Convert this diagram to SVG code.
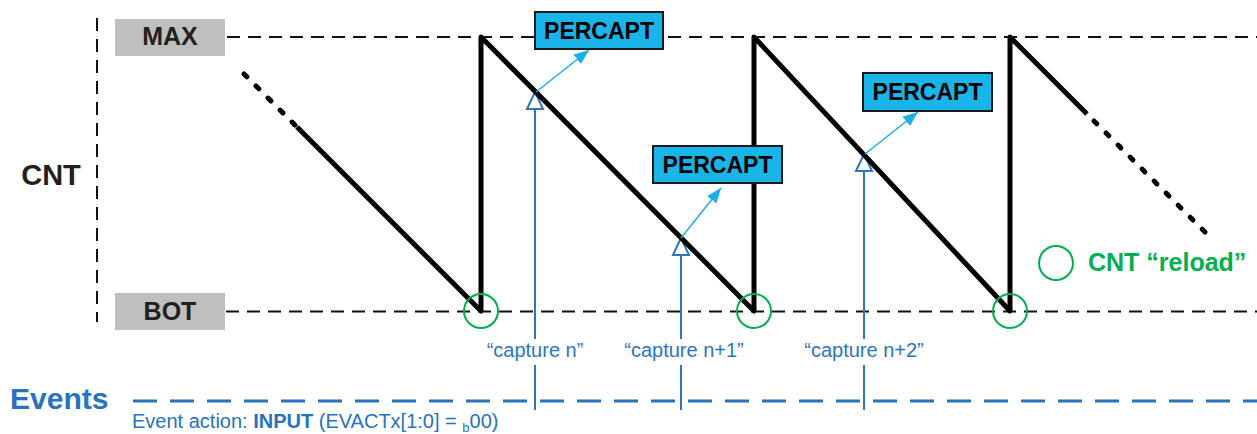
<svg xmlns="http://www.w3.org/2000/svg" width="1257" height="434" viewBox="0 0 1257 434">
<style>
.lvl{fill:#BFBFBF}
.lvlt{font-family:"Liberation Sans",Arial,sans-serif;font-weight:bold;font-size:25px;fill:#231F20;text-anchor:middle}
.ref{stroke:#111;stroke-width:2;stroke-dasharray:13 8;fill:none}
.pc{fill:#19B5E9;stroke:#1a1a1a;stroke-width:2}
.pct{font-family:"Liberation Sans",Arial,sans-serif;font-weight:bold;font-size:23px;fill:#000;text-anchor:middle}
.saw{stroke:#000;stroke-width:5;fill:none;stroke-linejoin:round}
.dot{stroke:#000;stroke-width:5;fill:none;stroke-linecap:round;stroke-dasharray:4 13}
.cap{stroke:#2E75C0;stroke-width:2;fill:none}
.capt{font-family:"Liberation Sans",Arial,sans-serif;font-size:20px;fill:#2E75C0;text-anchor:middle}
.cy{stroke:#1AB0E8;stroke-width:1.5;fill:none}
.rl{stroke:#00B050;stroke-width:2;fill:none}
.blue{fill:#2673BF;font-family:"Liberation Sans",Arial,sans-serif}
</style>
<defs>
<marker id="openTri" markerUnits="userSpaceOnUse" markerWidth="20" markerHeight="20" viewBox="0 0 20 20" refX="18" refY="10" orient="auto">
<path d="M1,2 L18,10 L1,18 Z" fill="#fff" stroke="#2E75C0" stroke-width="2"/>
</marker>
<marker id="cyHead" markerUnits="userSpaceOnUse" markerWidth="16" markerHeight="12" viewBox="0 0 16 12" refX="15" refY="6" orient="auto">
<path d="M0,0 L15,6 L0,12 Z" fill="#1AB0E8"/>
</marker>
</defs>
<rect width="1257" height="434" fill="#fff"/>

<g id="axis">
<line x1="97" y1="18" x2="97" y2="322" class="ref"/>
<text x="51" y="185" class="lvlt" style="font-size:29px">CNT</text>
</g>

<g id="max">
<rect x="115" y="19" width="110" height="37" class="lvl"/>
<text x="170" y="45" class="lvlt">MAX</text>
</g>
<g id="bot">
<rect x="115" y="293" width="110" height="37" class="lvl"/>
<text x="170" y="320" class="lvlt">BOT</text>
</g>

<g id="connectors">
<line x1="227" y1="37" x2="1257" y2="37" class="ref"/>
<line x1="226" y1="311.5" x2="1257" y2="311.5" class="ref"/>
<!-- capture lines -->
<line x1="535" y1="410" x2="535" y2="365" class="cap"/>
<line x1="535" y1="339" x2="535" y2="92" class="cap" marker-end="url(#openTri)"/>
<line x1="681" y1="410" x2="681" y2="365" class="cap"/>
<line x1="681" y1="339" x2="681" y2="238" class="cap" marker-end="url(#openTri)"/>
<line x1="864" y1="410" x2="864" y2="365" class="cap"/>
<line x1="864" y1="339" x2="864" y2="154" class="cap" marker-end="url(#openTri)"/>
<!-- sawtooth -->
<path d="M244,74 L297,127" class="dot"/>
<path d="M297,127 L481,311 L481,37 L754,311 L754,37 L1010,311 L1010,37 L1087,114" class="saw"/>
<path d="M1094,121 L1206,233" class="dot"/>
<!-- percapt arrows -->
<line x1="536" y1="92" x2="589" y2="50" class="cy" marker-end="url(#cyHead)"/>
<line x1="681" y1="238" x2="721" y2="188" class="cy" marker-end="url(#cyHead)"/>
<line x1="865" y1="154" x2="918" y2="112" class="cy" marker-end="url(#cyHead)"/>
<!-- events line -->
<line x1="133" y1="401" x2="1257" y2="401" stroke="#2673BF" stroke-width="3" stroke-dasharray="24 13"/>
</g>

<g id="reload-marks">
<circle cx="481" cy="311" r="17" class="rl"/>
<circle cx="754" cy="311" r="17" class="rl"/>
<circle cx="1010" cy="311" r="17" class="rl"/>
</g>

<g id="percapt-1">
<rect x="535" y="12" width="128" height="37" class="pc"/>
<text x="599" y="39" class="pct">PERCAPT</text>
</g>
<g id="percapt-2">
<rect x="653" y="146" width="129" height="37" class="pc"/>
<text x="717.5" y="173" class="pct">PERCAPT</text>
</g>
<g id="percapt-3">
<rect x="863" y="73" width="129" height="38" class="pc"/>
<text x="927.5" y="100" class="pct">PERCAPT</text>
</g>

<g id="capture-labels">
<text x="535" y="357" class="capt">“capture n”</text>
<text x="684" y="357" class="capt">“capture n+1”</text>
<text x="864" y="357" class="capt">“capture n+2”</text>
</g>

<g id="legend">
<circle cx="1056" cy="263" r="17" class="rl"/>
<text x="1088" y="271" font-family="'Liberation Sans',Arial,sans-serif" font-weight="bold" font-size="25" fill="#00B050">CNT “reload”</text>
</g>

<g id="events">
<text x="10" y="409" class="blue" font-weight="bold" font-size="30">Events</text>
<text x="132" y="428" class="blue" font-size="20">Event action: <tspan font-weight="bold">INPUT</tspan> (EVACTx[1:0] = <tspan font-size="13" dy="4">b</tspan><tspan dy="-4">00)</tspan></text>
</g>
</svg>
